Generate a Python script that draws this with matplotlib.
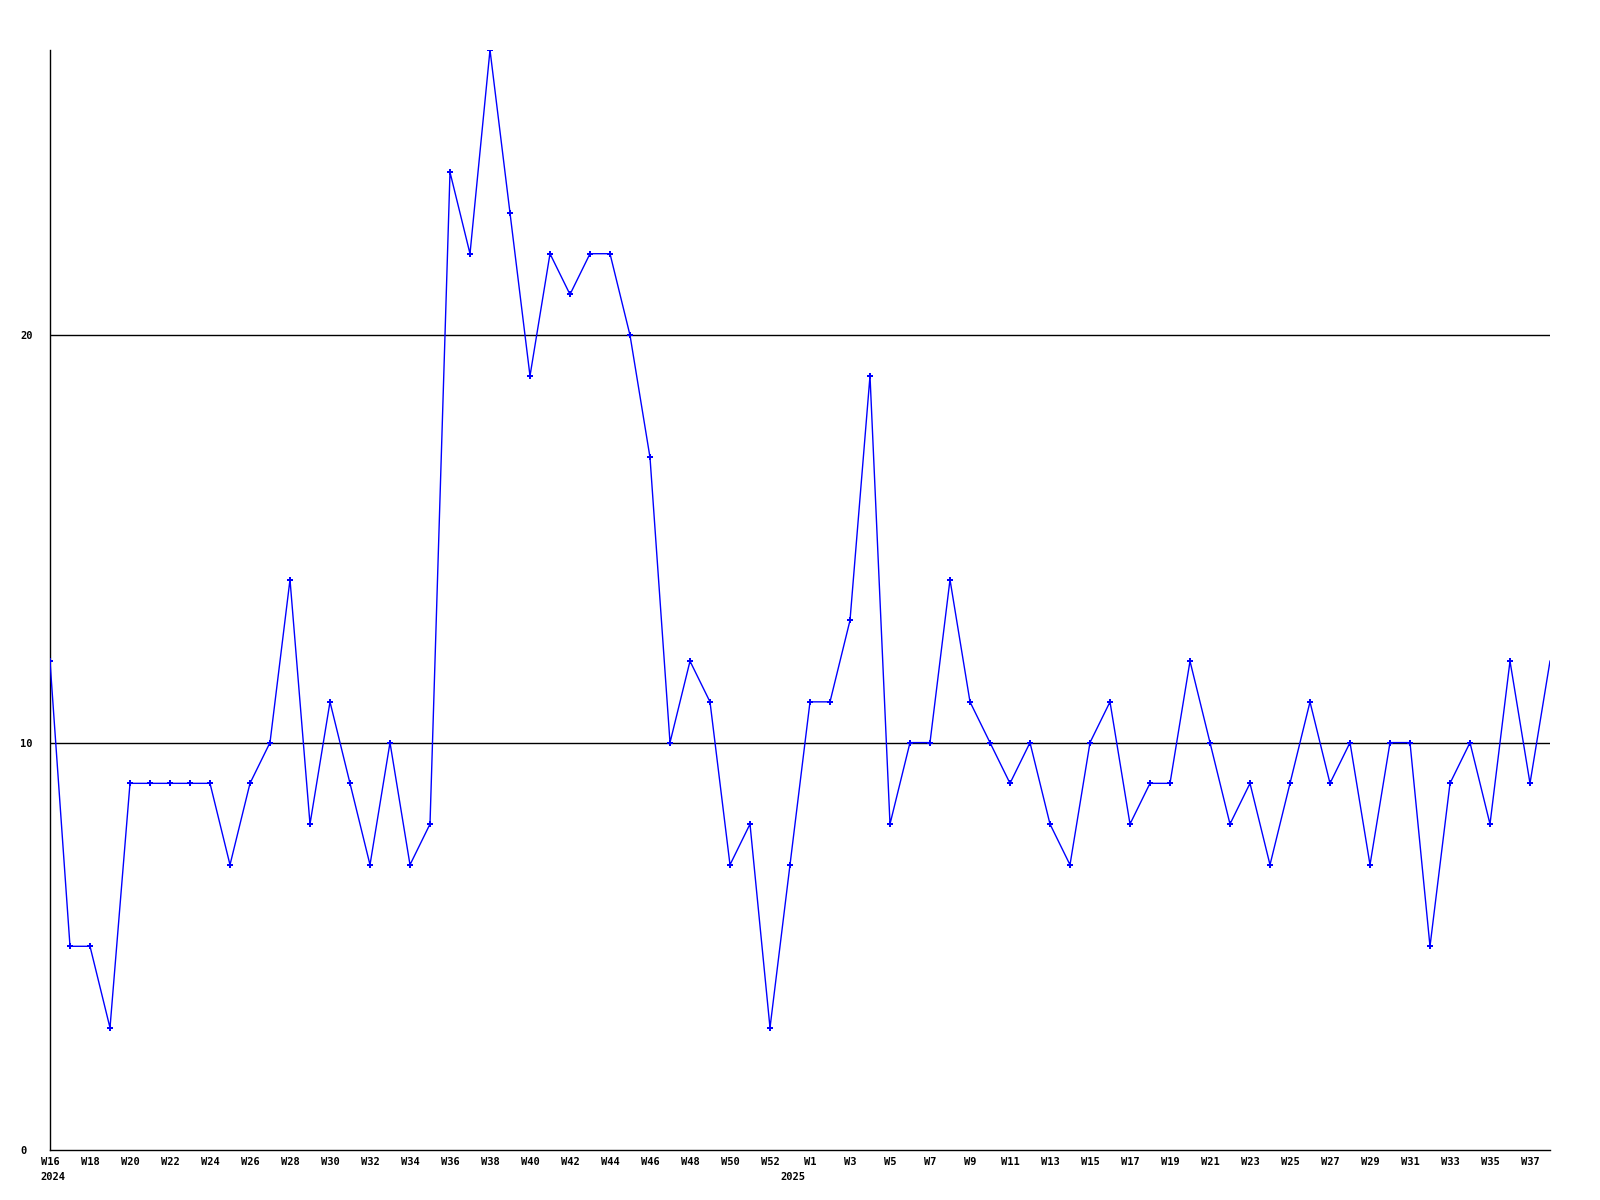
import matplotlib
matplotlib.use("Agg")
import matplotlib.pyplot as plt

weeks_2024 = [f"W{w}" for w in range(16, 54)]
weeks_2025 = [f"W{w}" for w in range(1, 39)]
week_labels = weeks_2024 + weeks_2025

values = [12, 5, 5, 3, 9, 9, 9, 9, 9, 7, 9, 10, 14, 8, 11, 9, 7, 10, 7, 8,
          24, 22, 27, 23, 19, 22, 21, 22, 22, 20, 17, 10, 12, 11, 7, 8, 3, 7,
          11, 11, 13, 19, 8, 10, 10, 14, 11, 10, 9, 10, 8, 7, 10, 11, 8, 9, 9,
          12, 10, 8, 9, 7, 9, 11, 9, 10, 7, 10, 10, 5, 9, 10, 8, 12, 9, 12]

y_ticks = [0, 10, 20]
year_labels = ["2024", "2025"]
year_positions = [0, 37]

font = "DejaVu Sans Mono"

fig = plt.figure(figsize=(16, 12), dpi=100)
ax = fig.add_axes([50 / 1600, 50 / 1200, 1500 / 1600, 1100 / 1200])

x = list(range(len(values)))
ax.plot(x, values, color="#0000ff", linewidth=1.0, marker="P", markersize=4.5,
        markeredgewidth=0, markevery=slice(0, len(values) - 1), zorder=3)

for v in [10, 20]:
    ax.axhline(v, color="black", linewidth=1.0, zorder=1)

ax.set_xlim(0, len(values) - 1)
ax.set_ylim(0, 27)

for s in ["top", "right"]:
    ax.spines[s].set_visible(False)
for s in ["left", "bottom"]:
    ax.spines[s].set_color("black")
    ax.spines[s].set_linewidth(1.0)

ax.set_yticks(y_ticks)
ax.set_yticklabels([str(t) for t in y_ticks], fontfamily=font, fontweight="bold",
                   fontsize=7.5, ha="left")
ax.tick_params(axis="y", length=0, pad=21.6)

tick_pos = [i for i in range(0, len(values), 2)]
tick_labels = [week_labels[i] for i in tick_pos]
ax.set_xticks(tick_pos)
ax.set_xticklabels(tick_labels, fontfamily=font, fontweight="bold", fontsize=7.5)
ax.tick_params(axis="x", length=0, pad=5)

for lab, pos in zip(year_labels, year_positions):
    ax.text(pos - 0.5, -0.020, lab, transform=ax.get_xaxis_transform(),
            ha="left", va="top", fontfamily=font, fontweight="bold", fontsize=7.5)

fig.savefig("out.png", dpi=100, facecolor="white")
